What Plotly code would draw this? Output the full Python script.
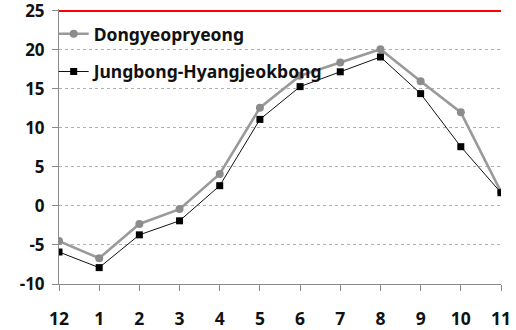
import plotly.graph_objects as go

months = ["12", "1", "2", "3", "4", "5", "6", "7", "8", "9", "10", "11"]
dongyeopryeong = [-4.5, -6.7, -2.3, -0.4, 4.1, 12.6, 16.7, 18.4, 20.1, 16.0, 12.0, 1.8]
jungbong = [-5.9, -7.9, -3.7, -1.9, 2.6, 11.1, 15.3, 17.2, 19.1, 14.4, 7.6, 1.7]
y_ticks = [-10, -5, 0, 5, 10, 15, 20, 25]

x_idx = list(range(len(months)))
font_family = "Noto Sans, Open Sans, sans-serif"
label_font = dict(family=font_family, size=17.5, color="#111111", weight="bold")
grid_color = "#b0b0b0"

fig = go.Figure()
fig.add_trace(go.Scatter(
    x=x_idx, y=dongyeopryeong, name="Dongyeopryeong", mode="lines+markers",
    line=dict(color="#9a9a9a", width=2.6),
    marker=dict(symbol="circle", size=8, color="#8c8c8c"),
    legendgroup="a",
))
fig.add_trace(go.Scatter(
    x=x_idx, y=jungbong, name="Jungbong-Hyangjeokbong", mode="lines+markers",
    line=dict(color="#111111", width=1),
    marker=dict(symbol="square", size=7, color="#000000"),
    legendgroup="b",
))

# top gridline sits at the edge of the plot area, so draw it as a shape
fig.add_shape(
    type="line", xref="paper", x0=0, x1=1, yref="y", y0=y_ticks[-1], y1=y_ticks[-1],
    line=dict(color="red", width=2), layer="above",
)

fig.update_layout(
    width=516, height=330,
    margin=dict(l=59, r=15, t=9, b=46),
    plot_bgcolor="white", paper_bgcolor="white",
    font=label_font,
    showlegend=True,
    legend=dict(
        x=-0.012, y=0.975, xanchor="left", yanchor="top",
        bgcolor="rgba(0,0,0,0)", tracegroupgap=12,
        font=label_font,
        itemwidth=30,
    ),
    xaxis=dict(
        range=[0, len(months) - 1], tickmode="array", tickvals=x_idx, ticktext=months,
        showgrid=False, zeroline=False, automargin=False,
        showline=True, linecolor="#8a8a8a", linewidth=1,
        ticks="outside", ticklen=6, tickcolor="#8a8a8a",
        ticklabelstandoff=13,
        tickfont=label_font,
    ),
    yaxis=dict(
        range=[-10, 25.25], tickmode="array", tickvals=y_ticks,
        ticktext=[str(v) for v in y_ticks],
        ticklabeloverflow="allow",
        showgrid=True, gridcolor=grid_color, griddash="dot", gridwidth=1,
        zeroline=False, automargin=False,
        showline=True, linecolor="#8a8a8a", linewidth=1,
        ticks="outside", ticklen=6, tickcolor="#8a8a8a",
        ticklabelstandoff=4,
        tickfont=dict(family=font_family, size=17, color="#111111", weight="bold"),
    ),
)

fig.write_html("out.html")
